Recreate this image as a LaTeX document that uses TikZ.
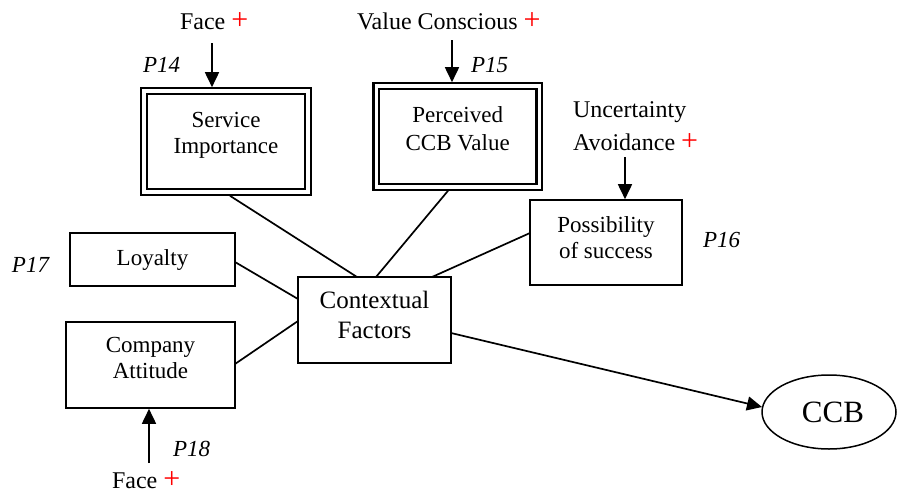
\documentclass[tikz,border=0pt]{standalone}
\usepackage{fontspec}
\setmainfont{Liberation Serif}
\usetikzlibrary{arrows.meta,calc,shapes.geometric}
% red plus sign set a little larger than the text
\newcommand\redplus{{\color{red}\fontsize{30}{30}\selectfont+}}
\begin{document}
\begin{tikzpicture}[x=1pt,y=-1pt,
  every node/.style={inner sep=0pt, outer sep=0pt},
  lbl/.style={font=\fontsize{23}{26}\selectfont, anchor=base},
  outer/.style={font=\fontsize{24}{27}\selectfont},
  prop/.style={font=\fontsize{23}{26}\selectfont\itshape, anchor=base west},
  box/.style={draw, line width=1.7pt, rectangle},
  dbox/.style={draw, double, line width=2.2pt, double distance=3.4pt, rectangle},
  link/.style={line width=1.7pt},
  arr/.style={line width=1.7pt, -{Triangle[length=15pt,width=14pt]}},
]
\useasboundingbox (0,0) rectangle (898,493);

% boxes
\node[dbox, minimum width=164pt, minimum height=101pt] (si)  at (226,141.5) {};
\node[dbox, minimum width=163pt, minimum height=101pt] (pcv) at (457.7,136.5) {};
\node[box,  minimum width=152pt, minimum height=85pt]  (pos) at (606,242.5) {};
\node[box,  minimum width=165pt, minimum height=53pt]  (loy) at (152.5,259.5) {};
\node[box,  minimum width=169pt, minimum height=86pt]  (com) at (150.5,365) {};
\node[box,  minimum width=153pt, minimum height=86pt]  (ctx) at (374.5,320) {};
\node[draw, ellipse, line width=1.5pt, minimum width=134pt, minimum height=74pt] (ccb) at (829,412) {};

% box texts
\node[lbl] (si1)  at (226,127)   {Service};
\node[lbl] (si2)  at (226,153)   {Importance};
\node[lbl] (pcv1) at (457.7,122) {Perceived};
\node[lbl] (pcv2) at (457.7,150) {CCB Value};
\node[lbl] (pos1) at (606,232)   {Possibility};
\node[lbl] (pos2) at (606,258)   {of success};
\node[lbl] (loy1) at (152.5,265) {Loyalty};
\node[lbl] (com1) at (150.5,352) {Company};
\node[lbl] (com2) at (150.5,378) {Attitude};
\node[lbl, font=\fontsize{25}{30}\selectfont] (ctx1) at (374.5,308) {Contextual};
\node[lbl, font=\fontsize{25}{30}\selectfont] (ctx2) at (374.5,338) {Factors};
\node[lbl, font=\fontsize{31}{36}\selectfont] (ccbt) at (833,422) {CCB};

% antecedents
\node[lbl, outer, anchor=base west] (ftop) at (180,29) {Face \redplus};
\node[lbl, outer, anchor=base west] (vct)  at (357,29) {Value Conscious \redplus};
\node[lbl, outer, anchor=base west] (ua1) at (573,117) {Uncertainty};
\node[lbl, outer, anchor=base west] (ua2) at (573,150) {Avoidance \redplus};
\node[lbl, outer, anchor=base west] (fbot) at (112,488) {Face \redplus};

% proposition labels
\node[prop] (p14) at (143,72)  {P14};
\node[prop] (p15) at (471,72)  {P15};
\node[prop] (p16) at (703,247) {P16};
\node[prop] (p17) at (12,272)  {P17};
\node[prop] (p18) at (173,456) {P18};

% arrow tails
\coordinate (aSI)  at (212,43);
\coordinate (aPCV) at (452,40);
\coordinate (aPOS) at (625,157);
\coordinate (aCOM) at (149,463);

\draw[arr] (aSI)  -- ([xshift=-14pt,yshift=3.8pt]si.north);
\draw[arr] (aPCV) -- ([xshift=-5.7pt,yshift=3.8pt]pcv.north);
\draw[arr] (aPOS) -- ([xshift=19pt,yshift=0.8pt]pos.north);
\draw[arr] (aCOM) -- ([xshift=-1.5pt,yshift=-0.8pt]com.south);

% links into the contextual factors
\draw[link] ([xshift=4pt,yshift=-3.8pt]si.south)  -- ([xshift=-17.5pt]ctx.north);
\draw[link] ([xshift=-9.7pt,yshift=-3.8pt]pcv.south) -- ([xshift=1.5pt]ctx.north);
\draw[link] ([yshift=9.5pt]pos.west)  -- ([xshift=57.5pt]ctx.north);
\draw[link] ([yshift=-2.5pt]loy.east) -- ([yshift=21pt]ctx.west);
\draw[link] ([yshift=1pt]com.east)    -- ([yshift=-1pt]ctx.west);
\draw[arr]  ([yshift=-13pt]ctx.east)  -- ([yshift=5pt]ccb.west);
\end{tikzpicture}
\end{document}
